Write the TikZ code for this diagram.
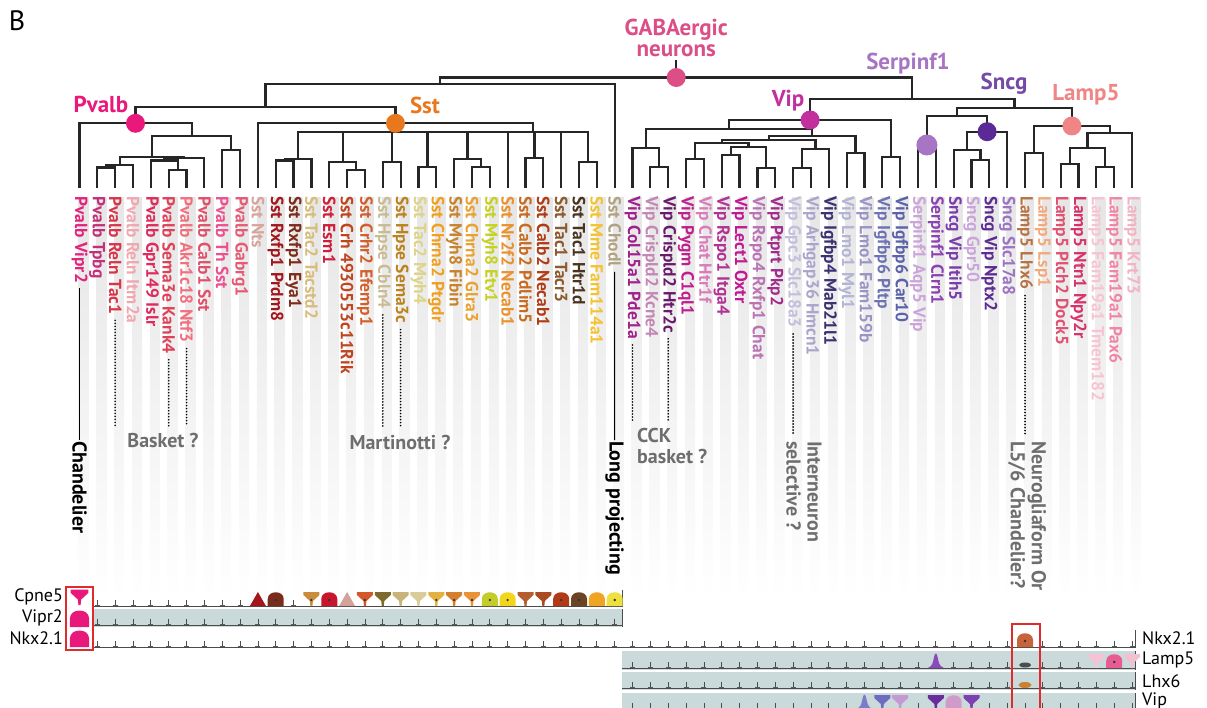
\documentclass[tikz,border=0pt]{standalone}
\usepackage{fontspec}
\setmainfont{PT Sans}
\usetikzlibrary{positioning,calc}

% group colours
\definecolor{gabacol}{HTML}{DC4F86}
\definecolor{pvcol}{HTML}{E8197A}
\definecolor{sstcol}{HTML}{E8781E}
\definecolor{vipcol}{HTML}{C2309E}
\definecolor{serpcol}{HTML}{A874C4}
\definecolor{sncgcol}{HTML}{5B2A96}
\definecolor{lampcol}{HTML}{F08585}
\definecolor{rowbg}{HTML}{CAD9D9}
\definecolor{annotgray}{HTML}{6E6E6E}
\definecolor{boxred}{HTML}{E02B2B}

\tikzset{
  branch/.style={line width=2.2pt, black!85},
  hub/.style={circle, inner sep=0pt, minimum size=19pt},
  grouplab/.style={font=\fontsize{23}{21}\selectfont\bfseries},
  leaflab/.style={rotate=-90, anchor=west, inner sep=0pt, font=\fontsize{17.5}{17.5}\selectfont\bfseries},
  annot/.style={font=\fontsize{20}{21}\selectfont\bfseries, text=annotgray, inner sep=1pt},
  vannot/.style={annot, rotate=-90, anchor=west, align=left},
  dots/.style={line width=1.8pt, dash pattern=on 0pt off 3pt, line cap=round},
  rowlab/.style={font=\fontsize{18}{18}\selectfont, inner sep=1pt},
  base/.style={line width=1pt, black!70},
  tickm/.style={line width=0.8pt, black!70},
  redbox/.style={draw=boxred, line width=1.8pt},
  vcup/.pic={\path[pic actions] (-8,-14) -- (8,-14) -- (8,-11) -- (1.5,-5) -- (1,0) -- (-1,0) -- (-1.5,-5) -- (-8,-11) -- cycle;},
  vdome/.pic={\path[pic actions] (-8,0) -- (-8,-7) .. controls (-8,-16) and (8,-16) .. (8,-7) -- (8,0) -- cycle;},
  vtri/.pic={\path[pic actions] (-8,0) -- (0,-14) -- (8,0) -- cycle;},
  vbell/.pic={\path[pic actions] (-8,0) .. controls (-3,-2) and (-3,-6) .. (-2,-10) .. controls (-1,-16) and (1,-16) .. (2,-10) .. controls (3,-6) and (3,-2) .. (8,0) -- cycle;}
}

\begin{document}
\begin{tikzpicture}[x=1pt, y=-1pt]
\useasboundingbox (0,0) rectangle (1207,708);
% leaf i sits at x = 79.5 + 17.84*i, tree leaves end at y = 188
\node[font=\fontsize{28}{28}\selectfont] (panel) at (17,21) {B};

% grey column stripes
\foreach \i in {0,...,59} {
    \shade[top color=black!10, bottom color=white] (78.5+17.84*\i,198) rectangle (88.5+17.84*\i,600);
}

% leaf tips
\foreach \i in {0,...,59} {
    \coordinate (L\i) at (79.5+17.84*\i,188);
}
% Pvalb clade
\coordinate (p12) at (106.3,167.5);
\coordinate (pD) at (119.7,165);
\coordinate (p56) at (177.6,170);
\coordinate (pF) at (164.2,160.5);
\coordinate (pE) at (184.3,158);
\coordinate (pB) at (152.0,156.7);
\coordinate (p89) at (231.1,150);
\coordinate (pA) at (191.6,136);
\coordinate (pv) at (135.5,123.3);
% Sst clade
\coordinate (s1112) at (284.7,160.5);
\coordinate (s1) at (298.0,159);
\coordinate (s1516) at (356.0,170);
\coordinate (s2) at (342.6,161.7);
\coordinate (s3) at (391.7,161.7);
\coordinate (s4) at (427.4,167.3);
\coordinate (s2223) at (480.9,166.7);
\coordinate (s5) at (467.5,159.3);
\coordinate (s7) at (534.4,158.3);
\coordinate (s9) at (588.0,161.7);
\coordinate (sC) at (533,131.7);
\coordinate (sst) at (395.5,123.3);
\coordinate (pvsst) at (265.5,106.7);
\coordinate (ps30) at (440.1,84);
\coordinate (gaba) at (676.2,77.5);
\coordinate (gabatop) at (676.2,60);
% Vip clade
\coordinate (v3233) at (659.3,166.7);
\coordinate (v1) at (645.9,148.3);
\coordinate (v3435) at (695.0,159.3);
\coordinate (v3637) at (730.7,155);
\coordinate (v3839) at (766.3,168.3);
\coordinate (vX) at (748.5,147.3);
\coordinate (vY) at (721.8,143.3);
\coordinate (v4041) at (802.0,168.3);
\coordinate (vZ) at (815.4,149.3);
\coordinate (vW) at (768.6,140);
\coordinate (v4344) at (855.5,152.7);
\coordinate (vV) at (812.1,136);
\coordinate (vU) at (729.0,129.3);
\coordinate (v4546) at (891.2,156.7);
\coordinate (vip) at (810.1,120);
% Serpinf1, Sncg, Lamp5
\coordinate (se) at (926.9,145);
\coordinate (sn5051) at (980.4,160);
\coordinate (sn1) at (967.0,150);
\coordinate (sncg) at (987.1,131.7);
\coordinate (ss) at (957.0,116);
\coordinate (m5354) at (1034.0,152.7);
\coordinate (m5556) at (1069.6,164);
\coordinate (m5758) at (1105.3,167.3);
\coordinate (mA) at (1087.5,148.3);
\coordinate (mB) at (1109.8,132.7);
\coordinate (lamp) at (1071.9,126);
\coordinate (rg) at (1014.5,108.3);
\coordinate (vr) at (912.3,99.3);

% dendrogram branches
\foreach \p/\c in {pv/L0, pv/pA, pA/pB, pA/p89, pB/pD, pB/pE, pD/p12, pD/L3, p12/L1, p12/L2,
    pE/pF, pE/L7, pF/L4, pF/p56, p56/L5, p56/L6, p89/L8, p89/L9,
    sst/L10, sst/sC, sC/s1, sC/s2, sC/s3, sC/s4, sC/s5, sC/L24, sC/s7, sC/L27, sC/s9,
    s1/s1112, s1/L13, s1112/L11, s1112/L12, s2/L14, s2/s1516, s1516/L15, s1516/L16,
    s3/L17, s3/L18, s4/L19, s4/L20, s5/L21, s5/s2223, s2223/L22, s2223/L23,
    s7/L25, s7/L26, s9/L28, s9/L29,
    pvsst/pv, pvsst/sst, ps30/pvsst, ps30/L30, gaba/ps30, gaba/vr, vr/vip, vr/rg,
    vip/vU, vip/v4546, vU/v1, vU/vV, v1/L31, v1/v3233, v3233/L32, v3233/L33,
    vV/vW, vV/v4344, vW/vY, vW/vZ, vY/v3435, vY/vX, v3435/L34, v3435/L35,
    vX/v3637, vX/v3839, v3637/L36, v3637/L37, v3839/L38, v3839/L39,
    vZ/v4041, vZ/L42, v4041/L40, v4041/L41, v4344/L43, v4344/L44, v4546/L45, v4546/L46,
    rg/ss, rg/lamp, ss/se, ss/sncg, se/L47, se/L48, sncg/sn1, sncg/L52,
    sn1/L49, sn1/sn5051, sn5051/L50, sn5051/L51,
    lamp/m5354, lamp/mB, m5354/L53, m5354/L54, mB/mA, mB/L59, mA/m5556, mA/m5758,
    m5556/L55, m5556/L56, m5758/L57, m5758/L58} {
    \draw[branch] (\p) -| (\c);
}
\draw[branch] (gaba) -- (gabatop);

% class hubs and names
\node[hub, fill=gabacol] (gabahub) at (gaba) {};
\node[hub, fill=pvcol] (pvhub) at (pv) {};
\node[hub, fill=sstcol] (ssthub) at (sst) {};
\node[hub, fill=vipcol] (viphub) at (vip) {};
\node[hub, fill=serpcol, minimum size=21pt] (serphub) at (se) {};
\node[hub, fill=sncgcol] (sncghub) at (sncg) {};
\node[hub, fill=lampcol] (lamphub) at (lamp) {};
\node[grouplab, text=gabacol, align=center, anchor=south] (gabalab) at (gabatop) {GABAergic\\neurons};
\node[grouplab, text=pvcol] (pvlab) at (101,104) {Pvalb};
\node[grouplab, text=sstcol] (sstlab) at (425,105) {Sst};
\node[grouplab, text=vipcol] (viplab) at (788,101) {Vip};
\node[grouplab, text=serpcol] (serplab) at (908,64) {Serpinf1};
\node[grouplab, text=sncgcol!85] (sncglab) at (1004,84) {Sncg};
\node[grouplab, text=lampcol] (lamplab) at (1086,95) {Lamp5};

% leaf names
\foreach \i/\lab/\col in {0/Pvalb Vipr2/E4237C, 1/Pvalb Tpbg/C2307A, 2/Pvalb Reln Tac1/D8354A,
    3/Pvalb Reln Itm2a/F2A6AE, 4/Pvalb Gpr149 Islr/DE2A5C, 5/Pvalb Sema3e Kank4/DF4258,
    6/Pvalb Akr1c18 Ntf3/F2707E, 7/Pvalb Calb1 Sst/DF506A, 8/Pvalb Th Sst/EE4F8E,
    9/Pvalb Gabrg1/E55A74, 10/Sst Nts/D6A59C, 11/Sst Rxfp1 Prdm8/A3161C,
    12/Sst Rxfp1 Eya1/7E2C1A, 13/Sst Tac2 Tacstd2/D8BC7A, 14/Sst Esm1/D01F3C,
    15/Sst Crh 4930553c11Rik/C0441E, 16/Sst Crhr2 Efemp1/D2602E, 17/Sst Hpse Cbln4/C9BB92,
    18/Sst Hpse Sema3c/BC821E, 19/Sst Tac2 Myh4/DDD488, 20/Sst Chrna2 Ptgdr/F0A020,
    21/Sst Myh8 Fibin/C9822C, 22/Sst Chrna2 Glra3/E9A232, 23/Sst Myh8 Etv1/C6D222,
    24/Sst Nr2f2 Necab1/E9922E, 25/Sst Calb2 Pdlim5/C86C22, 26/Sst Calb2 Necab1/B03C16,
    27/Sst Tac1 Tacr3/8C5A2C, 28/Sst Tac1 Htr1d/4A3420, 29/Sst Mme Fam114a1/F5C232,
    30/Sst Chodl/B1A282, 31/Vip Col15a1 Pde1a/A0208C, 32/Vip Crispld2 Kcne4/C486B4,
    33/Vip Crispld2 Htr2c/6A1A6C, 34/Vip Pygm C1ql1/C0208C, 35/Vip Chat Htr1f/DA7CBA,
    36/Vip Rspo1 Itga4/B23292, 37/Vip Lect1 Oxtr/C21892, 38/Vip Rspo4 Rxfp1 Chat/BA74B4,
    39/Vip Ptprt Pkp2/A02C8C, 40/Vip Gpc3 Slc18a3/C4BEDC, 41/Vip Arhgap36 Hmcn1/ACA4CC,
    42/Vip Igfbp4 Mab21l1/3C3272, 43/Vip Lmo1 Myl1/B4B4D4, 44/Vip Lmo1 Fam159b/9A94C4,
    45/Vip Igfbp6 Pltp/6C72B2, 46/Vip Igfbp6 Car10/5C62AA, 47/Serpinf1 Aqp5 Vip/CBA4DA,
    48/Serpinf1 Clrn1/8C42B2, 49/Sncg Vip Itih5/7A3CAA, 50/Sncg Gpr50/CAA4DA,
    51/Sncg Vip Nptx2/5C2C92, 52/Sncg Slc17a8/9C74C2, 53/Lamp5 Lhx6/B87244,
    54/Lamp5 Lsp1/F2AA7C, 55/Lamp5 Plch2 Dock5/E05272, 56/Lamp5 Ntn1 Npy2r/D8326C,
    57/Lamp5 Fam19a1 Tmem182/F8C4D2, 58/Lamp5 Fam19a1 Pax6/F284A4, 59/Lamp5 Krt73/F2B4C4} {
    \definecolor{lc}{HTML}{\col}
    \node[leaflab, text=lc] (lab\i) at (79.5+17.84*\i,196) {\lab};
}

% cell type annotations
\node[vannot, text=black] (chand) at (79.5,440) {Chandelier};
\node[vannot, text=black] (longp) at (614.7,440) {Long projecting};
\node[annot] (basket) at (163,440) {Basket ?};
\node[annot] (marti) at (400,442) {Martinotti ?};
\node[annot, anchor=north west, align=left] (cck) at (636,427) {CCK\\basket ?};
\node[vannot] (intsel) at (804,440) {Interneuron\\selective ?};
\node[vannot] (neuro) at (1027,440) {Neurogliaform Or\\L5/6 Chandelier?};
\draw[line width=1pt] ([yshift=-5pt]lab0.east) -- (chand.west);
\draw[line width=1pt] ([yshift=-5pt]lab30.east) -- (longp.west);
\foreach \i/\t in {2/basket.north, 5/basket.north, 6/basket.north, 17/marti.north, 18/marti.north,
    31/cck.north, 33/cck.north, 40/intsel.west, 53/neuro.west} {
    \draw[dots] ([yshift=-6pt]lab\i.east) -- ([yshift=5pt]lab\i.east |- \t);
}

% expression rows
\fill[rowbg] (93,609) rectangle (622,627);
\fill[rowbg] (622,651) rectangle (1135,670);
\fill[rowbg] (622,672) rectangle (1135,690);
\fill[rowbg] (622,693) rectangle (1135,712);
\draw[base] (93,606) -- (622,606) -- (622,590);
\draw[base] (93,625) -- (622,625) (622,609) -- (622,627);
\draw[base] (93,647) -- (1135,647) -- (1135,630);
\draw[base] (622,668) -- (1135,668) (1135,651) -- (1135,670);
\draw[base] (622,688) -- (1135,688) (1135,672) -- (1135,690);
\draw[base] (622,709) -- (1135,709) (1135,693) -- (1135,712);
\node[rowlab, anchor=east] (rCpne) at (64,597) {Cpne5};
\node[rowlab, anchor=east] (rVipr) at (64,618) {Vipr2};
\node[rowlab, anchor=east] (rNkxl) at (64,638) {Nkx2.1};
\node[rowlab, anchor=west] (rNkxr) at (1141,638) {Nkx2.1};
\node[rowlab, anchor=west] (rLamp) at (1141,660) {Lamp5};
\node[rowlab, anchor=west] (rLhx) at (1141,681) {Lhx6};
\node[rowlab, anchor=west] (rVip) at (1141,701) {Vip};

% low expression ticks
\foreach \b/\list in {606/{1,...,9,12}, 625/{1,...,30}, 647/{1,...,52,54,55,...,59},
    668/{31,...,47,49,50,51,52,54,55,56}, 688/{31,...,52,54,55,...,59},
    709/{31,...,43,47,51,52,...,59}} {
    \foreach \i in \list {
        \draw[tickm] (79.5+17.84*\i,\b-6) -- (79.5+17.84*\i,\b);
        \draw[line width=1.6pt, black!65] (77+17.84*\i,\b-0.5) -- (82+17.84*\i,\b-0.5);
    }
}

% violins
\foreach \i/\b/\col in {13/606/C98C3C, 16/606/D2582A, 17/606/7E6A2E, 18/606/C8B478, 19/606/D8CC98,
    20/606/E3B042, 21/606/D5802E, 22/606/E89436, 25/606/B45E30, 26/606/A94A20,
    45/709/6E6CC0, 46/709/C59AD4, 48/709/6A2C9C, 50/709/7C40B0, 57/668/F4C4D4, 59/668/F4C0D0} {
    \definecolor{vc}{HTML}{\col}
    \pic[fill=vc] at (79.5+17.84*\i,\b) {vcup};
}
\foreach \i/\b/\col in {11/606/7A2C1C, 14/606/C8162E, 23/606/C4CC2A, 24/606/F2D61E, 27/606/B33A18,
    28/606/6B4424, 29/606/F0A424, 30/606/EEE040, 49/709/D09ACA, 58/668/E85C94, 53/647/C8643C} {
    \definecolor{vc}{HTML}{\col}
    \pic[fill=vc] at (79.5+17.84*\i,\b) {vdome};
}
\foreach \i/\b/\col in {10/606/A3161C, 15/606/D4A29A} {
    \definecolor{vc}{HTML}{\col}
    \pic[fill=vc] at (79.5+17.84*\i,\b) {vtri};
}
\foreach \i/\b/\col in {48/668/8A4AB8, 44/709/7C7CCC} {
    \definecolor{vc}{HTML}{\col}
    \pic[fill=vc] at (79.5+17.84*\i,\b) {vbell};
}
\foreach \i/\b in {11/606, 13/606, 14/606, 16/606, 20/606, 21/606, 22/606, 23/606, 24/606,
    27/606, 28/606, 30/606, 53/647, 58/668} {
    \fill[black!80] (79.5+17.84*\i,\b-6) circle (1.3);
}
\fill[black!70] (L53 |- 0,665) ellipse (6 and 2.5);
\fill[brown!80!orange] (L53 |- 0,685) ellipse (6.5 and 3);
\pic[fill=pvcol, scale=1.1] at (79.5,605) {vcup};
\pic[fill=pvcol, scale=1.2] at (79.5,627) {vdome};
\pic[fill=pvcol, scale=1.2] at (79.5,647) {vdome};
\draw[redbox] (66,587) rectangle (93,650);
\draw[redbox] (1012,624) rectangle (1040,712);
\end{tikzpicture}
\end{document}
